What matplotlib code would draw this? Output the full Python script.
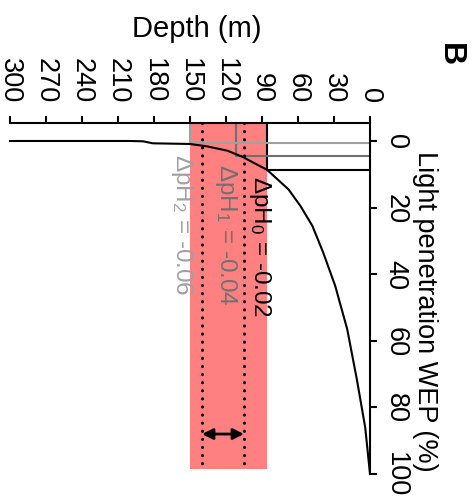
import matplotlib
matplotlib.use("Agg")
import matplotlib.pyplot as plt

plt.rcParams['font.family'] = ['Liberation Sans', 'DejaVu Sans']
plt.rcParams['mathtext.fontset'] = 'custom'
plt.rcParams['mathtext.rm'] = 'Liberation Sans'
plt.rcParams['mathtext.it'] = 'Liberation Sans:italic'
plt.rcParams['mathtext.default'] = 'regular'

# light penetration profile
depth_m = [0, 4, 11, 19, 29, 39, 48, 58, 68, 86, 92, 106, 119, 136, 150, 165, 181, 189, 200, 300]
wep_pct = [100, 86, 71.5, 56.5, 43.5, 33.5, 25.5, 19.5, 14.5, 8.6, 7.5, 4.8, 2.9, 1.6, 0.9, 0.8, 0.7, 0.1, 0, 0]

# depth / WEP where each delta pH threshold hits the profile
thr_depth = [86, 112, 150]
thr_wep = [8.6, 4.6, 0.6]
thr_colors = ['black', '#707070', '#a0a0a0']
thr_labels = ['ΔpH$_0$ = -0.02', 'ΔpH$_1$ = -0.04', 'ΔpH$_2$ = -0.06']
label_depth = [92, 120, 157]
label_wep = [10.3, 6.6, 3.7]

band = [86, 150]          # shaded depth range
band_bottom = 98.6
range_lines = [105, 140]  # dotted lines
arrow_wep = 88

depth_ticks = [0, 30, 60, 90, 120, 150, 180, 210, 240, 270, 300]
wep_ticks = [0, 20, 40, 60, 80, 100]
ytop = -5.4

fig = plt.figure(figsize=(4.73, 5.02), dpi=100)
ax = fig.add_axes([10/473, 1 - 475/502, 360/473, 351/502])

# red band
ax.fill_betweenx([ytop, band_bottom], band[0], band[1], color='#ff8080', lw=0, zorder=1)

# threshold step lines
for d, w, c in zip(thr_depth, thr_wep, thr_colors):
    ax.plot([d, d, 0], [ytop, w, w], color=c, lw=1.5, zorder=2, clip_on=False)

# dotted lines and arrow
for d in range_lines:
    ax.plot([d, d], [ytop, band_bottom], color='black', lw=2.2,
            linestyle=(0, (0.05, 2.6)), dash_capstyle='round', zorder=3)
ax.annotate('', xy=(range_lines[0], arrow_wep), xytext=(range_lines[1], arrow_wep),
            arrowprops=dict(arrowstyle='<|-|>', color='black', lw=2,
                            mutation_scale=16, shrinkA=0, shrinkB=0), zorder=4)

# profile
ax.plot(depth_m, wep_pct, color='black', lw=1.5, zorder=4, clip_on=False)

for t, d, w, c in zip(thr_labels, label_depth, label_wep, thr_colors):
    ax.text(d, w, t, rotation=270, color=c, fontsize=17.5, ha='center', va='top', zorder=5)

ax.set_xlim(300, 0)
ax.set_ylim(100, ytop)
ax.set_xticks(depth_ticks)
ax.set_yticks(wep_ticks)

for s in ['left', 'bottom']:
    ax.spines[s].set_visible(False)
for s in ['top', 'right']:
    ax.spines[s].set_linewidth(1.5)

ax.tick_params(axis='x', top=True, bottom=False, labeltop=True, labelbottom=False,
               direction='out', length=5, width=1.5, pad=10, labelsize=19.5, labelrotation=270)
ax.tick_params(axis='y', right=True, left=False, labelright=True, labelleft=False,
               direction='out', length=5, width=1.5, pad=4, labelsize=19.5, labelrotation=270)
for t in ax.get_yticklabels():
    t.set_va('center')

ax.text(1.153, 0.467, 'Light penetration WEP (%)', rotation=270, fontsize=19.5,
        ha='center', va='center', transform=ax.transAxes)
fig.text(197/473, 1 - 29/502, 'Depth (m)', fontsize=21, ha='center', va='center')
fig.text(450/473, 1 - 55/502, 'B', fontsize=23, fontweight='bold', rotation=270,
         ha='center', va='center')

fig.savefig('out.png', dpi=100)
